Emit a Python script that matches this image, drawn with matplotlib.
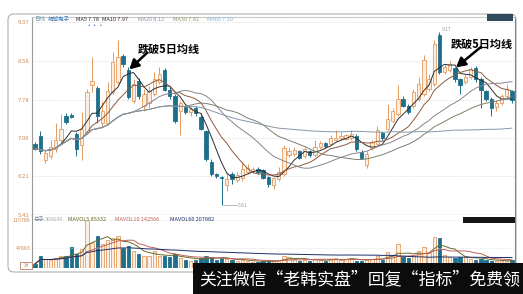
import numpy as np
import pandas as pd
import matplotlib
matplotlib.use("Agg")
import matplotlib.pyplot as plt
from matplotlib.patches import Rectangle, FancyBboxPatch

plt.rcParams['font.family'] = ['Noto Sans CJK SC', 'DejaVu Sans']

# ---- daily OHLC ----
opens = [6.86, 7.04, 6.53, 6.62, 6.77, 6.94, 7.45, 7.47, 7.08, 6.84,
         7.12, 8.07, 8.01, 7.29, 7.30, 7.94, 8.15, 8.68, 8.38, 7.76,
         8.17, 7.65, 7.70, 7.90, 8.15, 8.38, 7.98, 7.86, 7.55, 7.62,
         7.52, 7.60, 7.43, 7.14, 6.49, 6.26, 6.20, 6.02, 6.26, 6.12,
         6.18, 6.30, 6.32, 6.36, 6.33, 6.20, 6.03, 6.15, 6.26, 6.65,
         6.66, 6.72, 6.62, 6.72, 6.64, 6.80, 6.88, 6.86, 6.95, 7.00,
         6.98, 7.00, 7.03, 6.71, 6.44, 6.78, 6.86, 7.10, 7.18, 7.35,
         7.49, 7.80, 7.65, 7.65, 7.80, 7.90, 8.00, 8.11, 9.10, 8.35,
         8.38, 8.42, 8.21, 8.15, 8.25, 8.42, 8.21, 7.95, 7.80, 7.62,
         7.70, 7.85, 7.95]
highs = [6.90, 7.14, 6.77, 6.95, 7.29, 7.49, 7.50, 7.50, 7.12, 7.53,
         8.00, 8.66, 8.05, 7.75, 8.15, 8.75, 9.00, 8.72, 8.45, 8.20,
         8.22, 8.00, 8.05, 8.35, 8.45, 8.42, 8.05, 7.90, 7.75, 7.66,
         7.62, 7.65, 7.50, 7.16, 6.55, 6.28, 6.22, 6.30, 6.30, 6.30,
         6.50, 6.45, 6.40, 6.40, 6.36, 6.22, 6.20, 6.40, 6.85, 6.80,
         6.80, 6.74, 6.80, 6.74, 6.95, 6.92, 6.90, 7.05, 7.15, 7.12,
         7.08, 7.15, 7.08, 6.74, 6.72, 6.95, 7.24, 7.14, 7.69, 7.60,
         8.08, 7.85, 7.68, 8.00, 8.25, 8.70, 8.30, 9.00, 9.17, 8.52,
         8.58, 8.45, 8.22, 8.30, 8.45, 8.48, 8.24, 7.98, 7.84, 7.78,
         7.90, 8.10, 7.98]
lows = [6.74, 6.67, 6.47, 6.55, 6.70, 6.90, 7.28, 7.40, 6.62, 6.53,
        7.08, 7.94, 7.30, 7.20, 7.25, 7.90, 8.10, 8.45, 7.80, 7.70,
        7.80, 7.55, 7.60, 7.85, 8.10, 7.95, 7.80, 7.30, 7.05, 7.48,
        7.45, 7.45, 7.15, 6.52, 6.22, 6.18, 5.61, 5.90, 6.05, 6.08,
        6.10, 6.25, 6.28, 6.26, 6.14, 5.98, 5.95, 6.10, 6.22, 6.60,
        6.62, 6.55, 6.58, 6.60, 6.60, 6.76, 6.78, 6.84, 6.92, 6.95,
        6.94, 6.96, 6.72, 6.55, 6.38, 6.75, 6.84, 6.96, 7.15, 7.30,
        7.45, 7.62, 7.48, 7.60, 7.76, 7.85, 7.95, 8.05, 8.30, 8.30,
        8.34, 8.15, 7.90, 8.10, 8.20, 8.15, 7.60, 7.75, 7.45, 7.55,
        7.66, 7.80, 7.72]
closes = [6.77, 6.73, 6.69, 6.80, 6.94, 7.18, 7.33, 7.43, 6.77, 7.18,
          7.94, 8.17, 7.45, 7.55, 7.96, 8.56, 8.66, 8.52, 7.84, 8.10,
          7.86, 7.90, 7.95, 8.20, 8.30, 7.97, 7.86, 7.35, 7.70, 7.52,
          7.58, 7.50, 7.18, 6.57, 6.26, 6.22, 6.16, 6.14, 6.14, 6.24,
          6.36, 6.38, 6.36, 6.30, 6.18, 6.05, 6.16, 6.30, 6.78, 6.72,
          6.74, 6.58, 6.76, 6.64, 6.80, 6.88, 6.82, 7.00, 7.00, 7.03,
          7.05, 7.08, 6.77, 6.59, 6.67, 6.90, 7.15, 7.00, 7.39, 7.55,
          7.80, 7.65, 7.53, 7.94, 8.11, 8.60, 8.20, 8.93, 8.34, 8.45,
          8.52, 8.21, 8.07, 8.25, 8.40, 8.21, 7.97, 7.80, 7.60, 7.72,
          7.85, 8.00, 7.78]
volumes = [10000, 30000, 22000, 20000, 25000, 28000, 30000, 50000, 35000, 45000,
           115786, 60000, 77000, 59000, 67000, 72000, 77000, 48000, 52000, 42000,
           34000, 30000, 28000, 40000, 30000, 28000, 26000, 33000, 25000, 20000,
           18000, 19000, 24000, 30000, 27000, 20000, 24000, 22000, 19000, 17000,
           20000, 18000, 15000, 14000, 16000, 18000, 17000, 20000, 30000, 26000,
           22000, 18000, 20000, 17000, 22000, 20000, 16000, 22000, 24000, 20000,
           21000, 25000, 18000, 16000, 20000, 22000, 28000, 20000, 39000, 32000,
           59000, 27000, 24000, 30000, 41000, 51000, 36000, 75000, 72000, 31000,
           26000, 24000, 27000, 29000, 22000, 20000, 22000, 19000, 18000, 17000,
           16000, 17000, 20000]

price_ticks = [5.41, 6.21, 7.00, 7.78, 8.58, 9.37]
price_tick_labels = ["5.41", "6.21", "7.00", "7.78", "8.58", "9.37"]
vol_ticks = [47883, 115786]
vol_tick_labels = ["47883", "115786"]

ma_periods = [5, 10, 20, 30, 60]
ma_colors = ["#2e2e2e", "#8d5a3e", "#8a8290", "#7c806c", "#8797a8"]
ma_legend = ["MA5 7.78", "MA10 7.97", "MA20 8.12", "MA30 7.82", "MA60 7.19"]
ma_legend_colors = ["#2a2a2a", "#3a2a20", "#9a8aa8", "#8a9a70", "#8fb0cf"]
mavol_periods = [5, 10, 60]
mavol_colors = ["#6b6a2a", "#c0605a", "#1f2f6a"]
mavol_legend = ["MAVOL5 85332", "MAVOL10 142566", "MAVOL60 207882"]

breakdown_bars = [18, 81]        # bars that close below the 5-day line
breakdown_text = "跌破5日均线"
high_bar, low_bar = 78, 36

UP_EDGE, UP_FACE = "#e39a5e", "#fdeee2"
DN_COLOR = "#1d6f8b"
TICK_COLOR = "#d08a52"

W, H = 523, 294
fig = plt.figure(figsize=(W / 100, H / 100), dpi=100)
fig.patch.set_facecolor("white")


def frac(x0, y0, x1, y1):
    """pixel box (top-left origin) -> figure fraction rect"""
    return [x0 / W, 1 - y1 / H, (x1 - x0) / W, (y1 - y0) / H]


o = np.array(opens); h = np.array(highs); l = np.array(lows); c = np.array(closes)
v = np.array(volumes)
n = len(c)
x = np.arange(n)
up = c >= o
xl = (-0.58, n - 1 + 0.58)

# ---- price panel ----
ax = fig.add_axes(frac(32, 17, 515, 215))
ax.set_xlim(*xl)
ax.set_ylim(5.41, 9.476)
bw = 0.64
for i in range(n):
    col = UP_EDGE if up[i] else DN_COLOR
    ax.vlines(i, l[i], h[i], color=col, lw=0.7, zorder=2)
    lo, hi = min(o[i], c[i]), max(o[i], c[i])
    ax.bar(i, max(hi - lo, 0.012), bottom=lo, width=bw,
           facecolor=UP_FACE if up[i] else DN_COLOR,
           edgecolor=col, lw=0.6, zorder=3)

cs = pd.Series(c)
for p, col in zip(ma_periods, ma_colors):
    ax.plot(x, cs.rolling(p, min_periods=1).mean(), color=col, lw=0.7, zorder=4)

ax.set_yticks(price_ticks)
ax.set_yticklabels(price_tick_labels, fontsize=4.3, color=TICK_COLOR)
ax.tick_params(axis="y", length=0, pad=2)
ax.set_xticks([])
ax.grid(axis="y", color="#d8d8d8", lw=0.5, ls=(0, (2, 2)))
for s, col in [("left", "#9a9a9a"), ("right", "#555555"), ("top", "#c8c8c8"), ("bottom", "#555555")]:
    ax.spines[s].set_color(col)
    ax.spines[s].set_linewidth(0.8)

# extreme price markers
ax.text(high_bar + 0.4, h[high_bar], f"{h[high_bar]:.2f}", fontsize=3.5, color="#999999",
        va="bottom", ha="left")
ax.plot([low_bar + 0.3, low_bar + 3.0], [l[low_bar], l[low_bar]], color="#999999", lw=0.5)
ax.text(low_bar + 3.2, l[low_bar], f"{l[low_bar]:.2f}", fontsize=3.5, color="#999999",
        va="center", ha="left")

# breakdown arrows
for b, (dx, dy) in zip(breakdown_bars, [(3.6, 0.36), (5.0, 0.44)]):
    top = max(o[b], c[b])
    ax.annotate("", xy=(b + 0.2, top + 0.02), xytext=(b + dx, top + dy),
                arrowprops=dict(arrowstyle="-|>,head_length=0.55,head_width=0.3",
                                color="black", lw=1.8, shrinkA=0, shrinkB=0),
                zorder=6)

# ---- volume panel ----
av = fig.add_axes(frac(32, 215, 515, 268))
av.set_xlim(*xl)
av.set_ylim(0, 128100)
for i in range(n):
    if up[i]:
        av.bar(i, v[i], width=bw, facecolor=UP_FACE, edgecolor=UP_EDGE, lw=0.6)
    else:
        av.bar(i, v[i], width=bw, facecolor=DN_COLOR, edgecolor=DN_COLOR, lw=0.6)
vs = pd.Series(v, dtype=float)
for p, col in zip(mavol_periods, mavol_colors):
    av.plot(x, vs.rolling(p, min_periods=1).mean(), color=col, lw=0.7)
av.set_yticks(vol_ticks)
av.set_yticklabels(vol_tick_labels, fontsize=3.8, color=TICK_COLOR)
av.tick_params(axis="y", length=0, pad=1)
av.set_xticks([])
av.grid(axis="y", color="#e0e0e0", lw=0.5, ls=(0, (2, 2)))
av.spines["top"].set_visible(False)
av.spines["bottom"].set_visible(False)
av.spines["left"].set_color("#9a9a9a")
av.spines["right"].set_color("#555555")
av.spines["right"].set_linewidth(0.8)

# ---- overlay in pixel space ----
ov = fig.add_axes([0, 0, 1, 1], zorder=10)
ov.set_xlim(0, W)
ov.set_ylim(H, 0)
ov.axis("off")
ov.patch.set_alpha(0)

ov.add_patch(FancyBboxPatch((8, 14), 508, 258, boxstyle="round,pad=0,rounding_size=6",
                            facecolor="none", edgecolor="#b0b0b0", lw=0.8))
ov.add_patch(Rectangle((487, 14), 26, 7, facecolor="#2e4a5c", edgecolor="none"))
ov.add_patch(Rectangle((463, 217), 52, 6, facecolor="#151515", edgecolor="none"))
ov.add_patch(Rectangle((20, 262), 12, 7, facecolor="white", edgecolor="#c08060", lw=0.6))
ov.text(26, 265.5, "万", fontsize=3.5, color="#c08060", ha="center", va="center")

# price legend row
ov.text(34, 19.5, "日线", fontsize=4.0, color="#7a9ab0", va="center")
ov.text(48, 19.5, "桐城电子", fontsize=4.0, color="#3a7ab0", va="center")
for t, col, px in zip(ma_legend, ma_legend_colors, [76, 102, 138, 173, 207]):
    ov.text(px, 19.5, t, fontsize=4.0, color=col, va="center")
ov.text(85, 26.5, "•••", fontsize=4.5, color="#3a6ab0", va="center")

# volume legend row
ov.text(34, 219.5, "总手", fontsize=4.0, color="#7a8a9a", va="center")
ov.text(45, 219.5, "368640", fontsize=4.0, color="#b0b0b0", va="center")
for t, col, px in zip(mavol_legend, mavol_colors, [68, 115, 170]):
    ov.text(px, 219.5, t, fontsize=4.0, color=col, va="center")

# breakdown captions
ov.text(138, 49, breakdown_text, fontsize=8, fontweight="bold", color="black", va="center")
ov.text(451, 44, breakdown_text, fontsize=8, fontweight="bold", color="black", va="center")

# promo banner
ov.add_patch(Rectangle((193, 263), W - 193, H - 263, facecolor="#0c0c0c", edgecolor="none"))
ov.text(199, 279.5, "关注微信“老韩实盘”回复“指标”免费领", fontsize=12.2, color="white",
        va="center", ha="left")

fig.savefig("out.png", dpi=100, facecolor="white")
